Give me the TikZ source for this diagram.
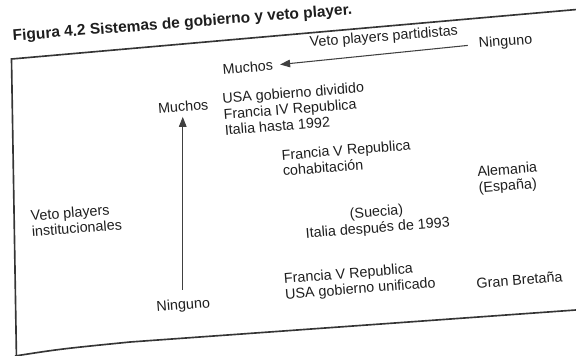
\documentclass[tikz,border=0pt]{standalone}
\usepackage{fontspec}
\setmainfont{Liberation Sans}
\usetikzlibrary{arrows.meta}
\definecolor{ink}{HTML}{1E1E1E}

\begin{document}
\begin{tikzpicture}[x=0.03cm, y=-0.03cm,
  lbl/.style={inner sep=0pt, rotate=4.5, text=ink, font=\fontsize{12.25}{13.6}\selectfont},
  ttl/.style={lbl, font=\bfseries\fontsize{13.2}{15}\selectfont},
  axis/.style={draw=ink!85, line width=0.9pt, -{Triangle[length=8.5pt,width=6.5pt]}},
  frame/.style={draw=ink!90, line width=1.4pt}]
  \useasboundingbox (0,0) rectangle (576,355);
  % frame
  \draw[frame] (580,9.2) -- (11.5,59) -- (16.5,360);
  \draw[frame] (15,356) .. controls (60,349) .. (130,342) -- (580,309.7);
  % title
  \node[ttl, anchor=base west] (tit) at (13,41) {Figura 4.2 Sistemas de gobierno y veto player.};
  % horizontal axis
  \node[lbl, anchor=base west] (vpp) at (310,47) {Veto players partidistas};
  \node[lbl, anchor=base west] (n1) at (479,48) {Ninguno};
  \node[lbl, anchor=base west] (m1) at (223,74.3) {Muchos};
  \draw[axis, shorten <=9.4pt, shorten >=6pt] (n1.west) -- (m1.east);
  % vertical axis
  \node[lbl, anchor=base west] (m2) at (158.3,113.5) {Muchos};
  \node[lbl, anchor=base west] (n2) at (156.7,311.7) {Ninguno};
  \draw[axis, shorten <=8pt, shorten >=4.3pt] (n2.north) -- (n2.north |- m2.south);
  \node[lbl, anchor=north west, align=left] (vpi) at (30,210.2) {Veto players\\institucionales};
  % cases
  \node[lbl, anchor=north west, align=left] (c1) at (221.7,92.8) {USA gobierno dividido\\Francia IV Republica\\Italia hasta 1992};
  \node[lbl, anchor=north west, align=left] (c2) at (281,149.5) {Francia V Republica\\cohabitación};
  \node[lbl, anchor=north west, align=left] (c3) at (476.7,166.2) {Alemania\\(España)};
  \node[lbl, anchor=north, align=center] (c4) at (376,206) {(Suecia)\\Italia después de 1993};
  \node[lbl, anchor=north west, align=left] (c5) at (283.3,272.8) {Francia V Republica\\USA gobierno unificado};
  \node[lbl, anchor=base west] (c6) at (476.7,288.3) {Gran Bretaña};
\end{tikzpicture}
\end{document}
